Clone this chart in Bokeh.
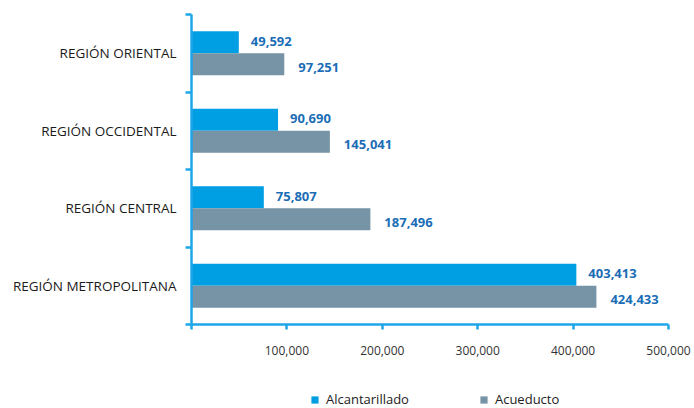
from bokeh.plotting import figure
from bokeh.layouts import column
from bokeh.models import Range1d, FixedTicker, Legend, LegendItem, ColumnDataSource
from bokeh.transform import dodge
from bokeh.core.properties import value
from bokeh.embed import file_html
from bokeh.resources import INLINE

categories = ["REGIÓN METROPOLITANA", "REGIÓN CENTRAL", "REGIÓN OCCIDENTAL", "REGIÓN ORIENTAL"]
alcantarillado = [403413, 75807, 90690, 49592]
acueducto = [424433, 187496, 145041, 97251]
series_names = ["Alcantarillado", "Acueducto"]
x_ticks = [0, 100000, 200000, 300000, 400000, 500000]

BLUE = "#009fe3"
GREY = "#7694a5"
AXIS = "#1ea6e9"
LABEL = "#1b6db6"
FONT = "Open Sans"

ypos = [i + 0.5 for i in range(len(categories))]
src = ColumnDataSource(dict(
    y=ypos,
    alc=alcantarillado,
    acu=acueducto,
    alc_lbl=["{:,}".format(v) for v in alcantarillado],
    acu_lbl=["{:,}".format(v) for v in acueducto],
))

p = figure(width=692, height=384, output_backend="svg", toolbar_location=None,
           x_range=Range1d(0, 500000), y_range=Range1d(0, len(categories)),
           min_border_left=191, min_border_right=24, min_border_top=14, min_border_bottom=60)
p.outline_line_color = None
p.grid.visible = False

p.hbar(y=dodge("y", 0.142), left=0, right="alc", height=0.284, source=src,
       fill_color=BLUE, line_color=None)
p.hbar(y=dodge("y", -0.142), left=0, right="acu", height=0.284, source=src,
       fill_color=GREY, line_color=None)

p.text(x="alc", y=dodge("y", 0.142), text="alc_lbl", source=src, x_offset=12, y_offset=-1,
       text_baseline="middle", text_align="left", text_font=value(FONT),
       text_font_style="bold", text_font_size="13px", text_color=LABEL)
p.text(x="acu", y=dodge("y", -0.142), text="acu_lbl", source=src, x_offset=14, y_offset=3,
       text_baseline="middle", text_align="left", text_font=value(FONT),
       text_font_style="bold", text_font_size="13px", text_color=LABEL)

# y axis
ya = p.yaxis[0]
ya.ticker = FixedTicker(ticks=ypos, minor_ticks=list(range(len(categories) + 1)))
ya.major_label_overrides = {y: c for y, c in zip(ypos, categories)}
ya.major_tick_line_color = None
ya.minor_tick_line_color = AXIS
ya.minor_tick_line_width = 2.5
ya.minor_tick_out = 6
ya.minor_tick_in = 0
ya.axis_line_color = AXIS
ya.axis_line_width = 2.5
ya.major_label_standoff = 9
ya.major_label_text_font = FONT
ya.major_label_text_font_size = "13.5px"
ya.major_label_text_color = "#1a1a1a"

xa = p.xaxis[0]
xa.ticker = FixedTicker(ticks=x_ticks, minor_ticks=[])
xa.major_label_overrides = {t: ("" if t == 0 else "{:,}".format(t)) for t in x_ticks}
xa.major_tick_line_color = AXIS
xa.major_tick_line_width = 2.5
xa.major_tick_out = 5
xa.major_tick_in = 0
xa.axis_line_color = AXIS
xa.axis_line_width = 2.5
xa.major_label_standoff = 16
xa.major_label_text_font = FONT
xa.major_label_text_font_size = "12px"
xa.major_label_text_color = "#333333"

# legend strip (frames are aligned with the chart above)
pl = figure(width=692, height=24, output_backend="svg", toolbar_location=None,
            x_range=Range1d(0, 1), y_range=Range1d(0, 1), min_border=0,
            min_border_left=191, min_border_right=24, min_border_top=0, min_border_bottom=0)
pl.axis.visible = False
pl.grid.visible = False
pl.outline_line_color = None
dummy = ColumnDataSource(dict(y=[-5], l=[-5], r=[-4]))
d1 = pl.hbar(y="y", left="l", right="r", height=1, source=dummy, fill_color=BLUE, line_color=None)
d2 = pl.hbar(y="y", left="l", right="r", height=1, source=dummy, fill_color=GREY, line_color=None)
legend = Legend(items=[LegendItem(label=series_names[0], renderers=[d1]),
                       LegendItem(label=series_names[1], renderers=[d2])],
                orientation="horizontal", location=(119, 0),
                glyph_width=9, glyph_height=9, label_standoff=7, spacing=70,
                padding=0, margin=0, border_line_color=None, background_fill_alpha=0,
                label_text_font=FONT, label_text_font_size="13px",
                label_text_color="#222222", label_height=14)
pl.add_layout(legend, "center")

open("out.html", "w").write(file_html(column(p, pl, spacing=0), INLINE))
